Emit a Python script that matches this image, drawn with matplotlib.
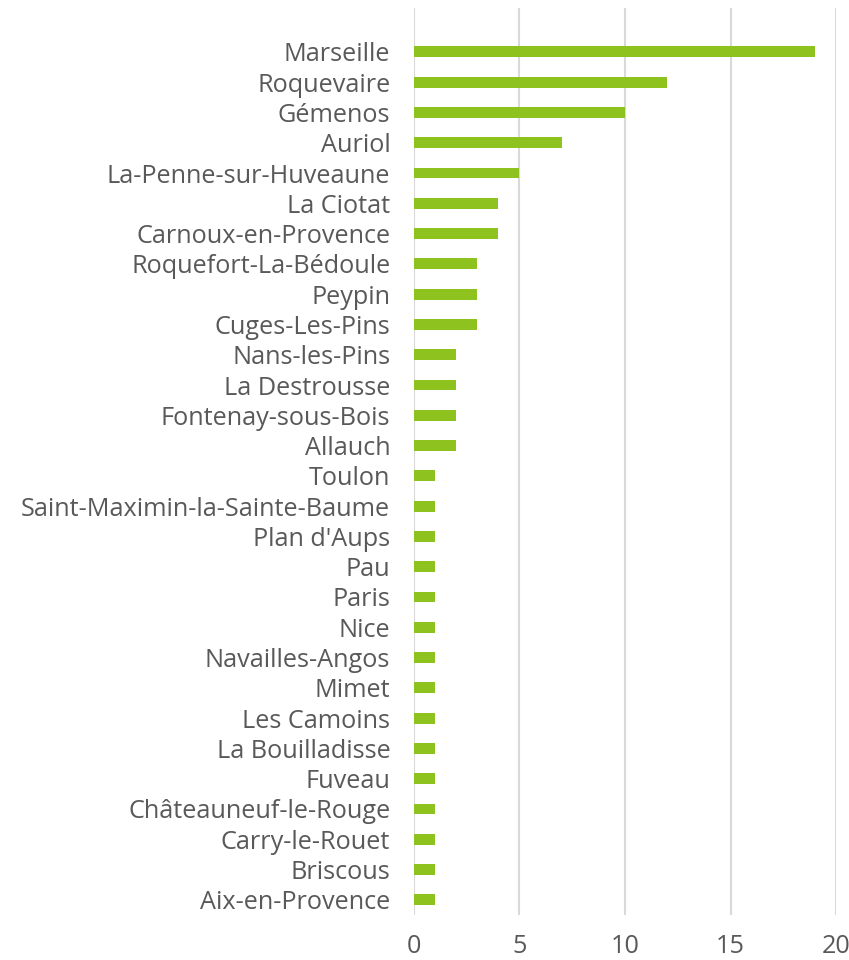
import matplotlib
matplotlib.use("Agg")
import matplotlib.pyplot as plt

communes = ["Marseille", "Roquevaire", "Gémenos", "Auriol", "La-Penne-sur-Huveaune",
            "La Ciotat", "Carnoux-en-Provence", "Roquefort-La-Bédoule", "Peypin",
            "Cuges-Les-Pins", "Nans-les-Pins", "La Destrousse", "Fontenay-sous-Bois",
            "Allauch", "Toulon", "Saint-Maximin-la-Sainte-Baume", "Plan d'Aups", "Pau",
            "Paris", "Nice", "Navailles-Angos", "Mimet", "Les Camoins", "La Bouilladisse",
            "Fuveau", "Châteauneuf-le-Rouge", "Carry-le-Rouet", "Briscous", "Aix-en-Provence"]
valeurs = [19, 12, 10, 7, 5, 4, 4, 3, 3, 3, 2, 2, 2, 2, 1, 1, 1, 1, 1, 1, 1, 1, 1, 1, 1, 1, 1, 1, 1]
xticks = [0, 5, 10, 15, 20]

plt.rcParams['font.family'] = ['Open Sans', 'DejaVu Sans']
fig = plt.figure(figsize=(8.49, 9.6), dpi=100)
ax = fig.add_axes([0.4876, 0.0469, 0.4971, 0.9448])

n = len(communes)
pos = list(range(n - 1, -1, -1))
ax.barh(pos, valeurs, height=0.36, color="#8DC21F", zorder=3)
ax.set_yticks(pos)
ax.set_yticklabels(communes, fontsize=18.2, color="#595959")
ax.set_xticks(xticks)
ax.set_xticklabels([str(t) for t in xticks], fontsize=18.2, color="#595959")
ax.set_xlim(0, 20)
ax.set_ylim(-0.5, n - 1 + 1.45)
ax.grid(axis="x", color="#D9D9D9", linewidth=1.5, zorder=0)
for s in ax.spines.values():
    s.set_visible(False)
ax.tick_params(axis="both", length=0)
ax.tick_params(axis="y", pad=17)
ax.tick_params(axis="x", pad=14)
fig.savefig("out.png", dpi=100)
